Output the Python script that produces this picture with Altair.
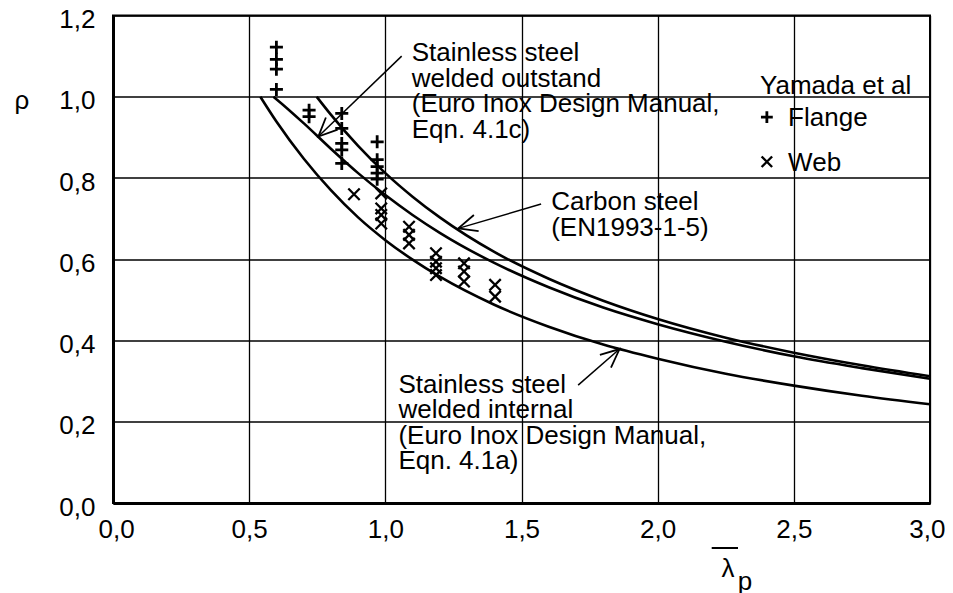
import altair as alt
import pandas as pd

FONT = "Liberation Sans"

# ---- curves ----
si_lam = [0.541, 0.6, 0.7, 0.8, 0.9, 1.0, 1.1, 1.2, 1.4, 1.6, 1.8, 2.0, 2.25, 2.5, 2.75, 3.0]
si_rho = [1.0, 0.939, 0.848, 0.770, 0.703, 0.647, 0.599, 0.557, 0.488, 0.434, 0.390, 0.355, 0.318, 0.289, 0.264, 0.243]

so_lam = [0.589, 0.6, 0.7, 0.8, 0.9, 1.0, 1.1, 1.2, 1.4, 1.6, 1.8, 2.0, 2.25, 2.5, 2.75, 3.0]
so_rho = [1.0, 0.994, 0.935, 0.872, 0.812, 0.758, 0.709, 0.665, 0.591, 0.531, 0.481, 0.440, 0.397, 0.361, 0.332, 0.306]

cs_lam = [0.748, 0.8, 0.9, 1.0, 1.1, 1.2, 1.4, 1.6, 1.8, 2.0, 2.25, 2.5, 2.75, 3.0]
cs_rho = [1.0, 0.956, 0.879, 0.812, 0.754, 0.703, 0.618, 0.552, 0.498, 0.453, 0.407, 0.370, 0.339, 0.312]

# ---- Yamada et al test points ----
flange_lam = [0.60, 0.60, 0.60, 0.60, 0.72, 0.72, 0.84, 0.84, 0.84, 0.84, 0.84,
              0.97, 0.97, 0.97, 0.97, 0.97]
flange_rho = [1.122, 1.092, 1.068, 1.018, 0.967, 0.951, 0.959, 0.922, 0.885, 0.869, 0.836,
              0.889, 0.845, 0.828, 0.812, 0.797]
web_lam = [0.885, 0.985, 0.985, 0.985, 0.985, 1.087, 1.087, 1.087,
           1.186, 1.186, 1.186, 1.186, 1.289, 1.289, 1.289, 1.403, 1.403]
web_rho = [0.760, 0.762, 0.725, 0.709, 0.688, 0.680, 0.660, 0.639,
           0.615, 0.594, 0.578, 0.561, 0.590, 0.570, 0.545, 0.537, 0.508]

# ---- annotations ----
note_text = [
    "Stainless steel\nwelded outstand\n(Euro Inox Design Manual,\nEqn. 4.1c)",
    "Carbon steel\n(EN1993-1-5)",
    "Stainless steel\nwelded internal\n(Euro Inox Design Manual,\nEqn. 4.1a)",
    "Yamada et al",
    "Flange",
    "Web",
]
note_lam = [1.097, 1.609, 1.048, 2.376, 2.479, 2.479]
note_rho = [1.087, 0.721, 0.272, 1.006, 0.927, 0.817]

arrow_tail_lam = [1.060, 1.572, 1.708]
arrow_tail_rho = [1.100, 0.736, 0.290]
arrow_tip_lam = [0.754, 1.268, 1.860]
arrow_tip_rho = [0.902, 0.676, 0.379]
arrow_angle = [225.8, 253.6, 48.9]

legend_flange = ([2.401], [0.950])
legend_web = ([2.401], [0.840])

x_ticks = [0, 0.5, 1.0, 1.5, 2.0, 2.5, 3.0]
y_ticks = [0, 0.2, 0.4, 0.6, 0.8, 1.0, 1.2]

PLUS = "M-1,0L1,0M0,-1L0,1"
CROSS = "M-1,-1L1,1M-1,1L1,-1"
VHEAD = "M-0.45,1L0,0L0.45,1"

label_expr = "replace(format(datum.value, '.1f'), '.', ',')"


def X(field="lam"):
    return alt.X(f"{field}:Q", scale=alt.Scale(domain=[0, 3], nice=False, zero=False),
                 axis=alt.Axis(values=x_ticks, labelExpr=label_expr, title=None,
                               labelPadding=13, labelBaseline="top", labelFlush=True,
                               labelFlushOffset=15))


def Y(field="rho"):
    return alt.Y(f"{field}:Q", scale=alt.Scale(domain=[0, 1.2], nice=False, zero=False),
                 axis=alt.Axis(values=y_ticks, labelExpr=label_expr, title=None,
                               labelPadding=18, labelOffset=4, labelFlush=False))


curves = pd.concat([
    pd.DataFrame({"lam": si_lam, "rho": si_rho, "s": "si"}),
    pd.DataFrame({"lam": so_lam, "rho": so_rho, "s": "so"}),
    pd.DataFrame({"lam": cs_lam, "rho": cs_rho, "s": "cs"}),
])

line_layer = alt.Chart(curves).mark_line(
    interpolate="monotone", color="black", strokeWidth=2.6
).encode(x=X(), y=Y(), detail="s:N")

flange_df = pd.DataFrame({"lam": flange_lam, "rho": flange_rho})
web_df = pd.DataFrame({"lam": web_lam, "rho": web_rho})

flange_layer = alt.Chart(flange_df).mark_point(
    shape=PLUS, size=170, strokeWidth=2.8, color="black", filled=False, opacity=1
).encode(x=X(), y=Y())

web_layer = alt.Chart(web_df).mark_point(
    shape=CROSS, size=130, strokeWidth=2.3, color="black", filled=False, opacity=1
).encode(x=X(), y=Y())

notes_df = pd.DataFrame({"lam": note_lam, "rho": note_rho, "t": note_text})
notes_layer = alt.Chart(notes_df).mark_text(
    align="left", baseline="alphabetic", lineBreak="\n", lineHeight=25.5,
    font=FONT, fontSize=26, color="black"
).encode(x=X(), y=Y(), text="t:N")

arrows_df = pd.DataFrame({
    "lam": arrow_tail_lam, "rho": arrow_tail_rho,
    "lam2": arrow_tip_lam, "rho2": arrow_tip_rho,
})
shaft_layer = alt.Chart(arrows_df).mark_rule(color="black", strokeWidth=1.5).encode(
    x=X(), y=Y(), x2="lam2:Q", y2="rho2:Q"
)

heads_df = pd.DataFrame({"lam": arrow_tip_lam, "rho": arrow_tip_rho, "ang": arrow_angle})
head_layer = alt.Chart(heads_df).mark_point(
    shape=VHEAD, size=1400, strokeWidth=1.8, color="black", filled=False, opacity=1
).encode(x=X(), y=Y(), angle=alt.Angle("ang:Q", scale=None))

leg_f = alt.Chart(pd.DataFrame({"lam": legend_flange[0], "rho": legend_flange[1]})).mark_point(
    shape=PLUS, size=140, strokeWidth=2.8, color="black", filled=False, opacity=1
).encode(x=X(), y=Y())
leg_w = alt.Chart(pd.DataFrame({"lam": legend_web[0], "rho": legend_web[1]})).mark_point(
    shape=CROSS, size=110, strokeWidth=2.4, color="black", filled=False, opacity=1
).encode(x=X(), y=Y())

one = pd.DataFrame({"a": [0]})
rho_title = alt.Chart(one).mark_text(
    text="ρ", font=FONT, fontSize=26, align="center", baseline="alphabetic", color="black"
).encode(x=alt.value(-91), y=alt.value(93.5))
lam_title = alt.Chart(one).mark_text(
    text="λ", font=FONT, fontSize=26, align="center", baseline="alphabetic", color="black"
).encode(x=alt.value(615), y=alt.value(561.5))
p_title = alt.Chart(one).mark_text(
    text="p", font=FONT, fontSize=26, align="center", baseline="alphabetic", color="black"
).encode(x=alt.value(632), y=alt.value(574))
bar_title = alt.Chart(one).mark_rule(color="black", strokeWidth=2).encode(
    x=alt.value(598.7), x2=alt.value(625), y=alt.value(532.5)
)

chart = alt.layer(
    line_layer, flange_layer, web_layer, shaft_layer, head_layer, notes_layer,
    leg_f, leg_w, rho_title, lam_title, p_title, bar_title
).properties(
    width=817, height=487.5,
    autosize=alt.AutoSizeParams(type="none"),
    padding={"left": 105, "top": 7.5, "right": 15, "bottom": 90},
).configure_view(
    stroke="black", strokeWidth=2
).configure_axis(
    domainColor="black", domainWidth=3, gridColor="black", gridWidth=1.3, gridOpacity=1,
    ticks=False, tickSize=0, labelFont=FONT, labelFontSize=26, labelColor="black",
    grid=True
)

chart.save("out.html", embed_options={"renderer": "svg", "actions": False})
